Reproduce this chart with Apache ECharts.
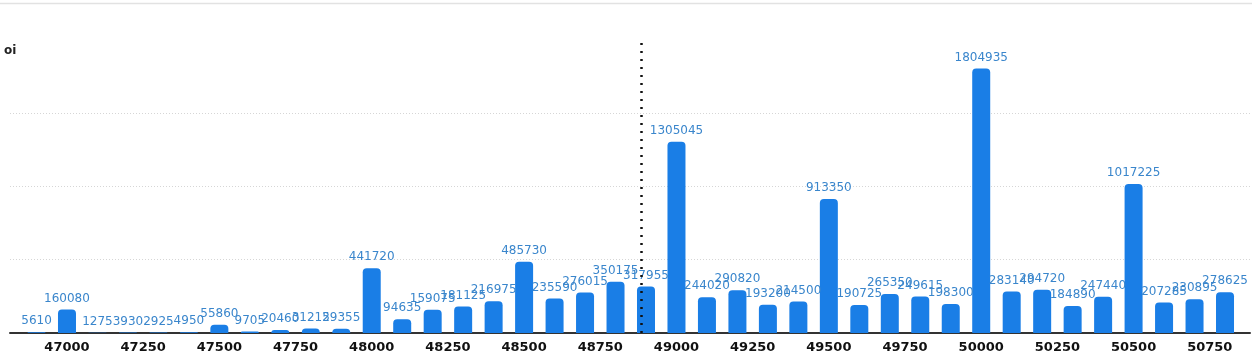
<!DOCTYPE html>
<html>
<head>
<meta charset="utf-8">
<script src="https://cdn.jsdelivr.net/npm/echarts@6/dist/echarts.min.js"></script>
<style>
html,body{margin:0;padding:0;background:#fff;}
#chart{width:1252px;height:358px;}
</style>
</head>
<body>
<div id="chart"></div>
<script>
const strikes = [46900,47000,47100,47200,47300,47400,47500,47600,47700,47800,47900,
  48000,48100,48200,48300,48400,48500,48600,48700,48800,48900,
  49000,49100,49200,49300,49400,49500,49600,49700,49800,49900,
  50000,50100,50200,50300,50400,50500,50600,50700,50800];
const oi = [5610,160080,1275,3930,2925,4950,55860,9705,20460,31215,29355,
  441720,94635,159075,181125,216975,485730,235590,276015,350175,317955,
  1305045,244020,290820,193200,214500,913350,190725,265350,249615,198300,
  1804935,283140,294720,184890,247440,1017225,207285,230895,278625];
const xTickLabels = [47000,47250,47500,47750,48000,48250,48500,48750,49000,49250,49500,49750,50000,50250,50500,50750];
const spot = 48884;
const xMin = 46813, xMax = 50882;
const yMax = 1985000;

const chart = echarts.init(document.getElementById('chart'));
chart.setOption({
  animation: false,
  graphic: [{
    type: 'line', shape: {x1: 0, y1: 3.5, x2: 1252, y2: 3.5},
    style: {stroke: '#e2e2e2', lineWidth: 1.5}
  }],
  grid: {left: 10, right: 2, top: 42, bottom: 25, containLabel: false},
  xAxis: {
    type: 'value', min: xMin, max: xMax,
    axisLine: {show: true, lineStyle: {color: '#333', width: 2}},
    axisTick: {show: false},
    splitLine: {show: false},
    axisLabel: {
      customValues: xTickLabels,
      formatter: v => String(v),
      color: '#111', fontWeight: 'bold', fontSize: 13, fontFamily: 'DejaVu Sans',
      margin: 8
    }
  },
  yAxis: {
    type: 'value', min: 0, max: yMax, interval: 500000,
    name: 'oi', nameLocation: 'end', nameGap: -15,
    nameTextStyle: {color: '#222', fontWeight: 'bold', fontSize: 12, fontFamily: 'DejaVu Sans', align: 'left', padding: [0,0,0,-6]},
    axisLine: {show: false}, axisTick: {show: false}, axisLabel: {show: false},
    splitLine: {show: true, showMaxLine: false, showMinLine: false, lineStyle: {color: '#d6d6d6', type: [1,2], width: 1}}
  },
  series: [{
    type: 'bar',
    data: strikes.map((s, i) => [s, oi[i]]),
    barWidth: 18,
    itemStyle: {color: '#1a7ee6', borderRadius: [4,4,0,0]},
    label: {
      show: true, position: 'top', distance: 5,
      formatter: p => String(p.value[1]),
      color: '#3a86cc', fontSize: 12, fontFamily: 'DejaVu Sans'
    },
    labelLayout: {hideOverlap: false},
    markLine: {
      silent: true, symbol: ['none', 'none'], animation: false,
      label: {show: false},
      lineStyle: {color: '#111', type: [2,6], width: 2.5},
      data: [{xAxis: spot}]
    }
  }]
});
</script>
</body>
</html>
